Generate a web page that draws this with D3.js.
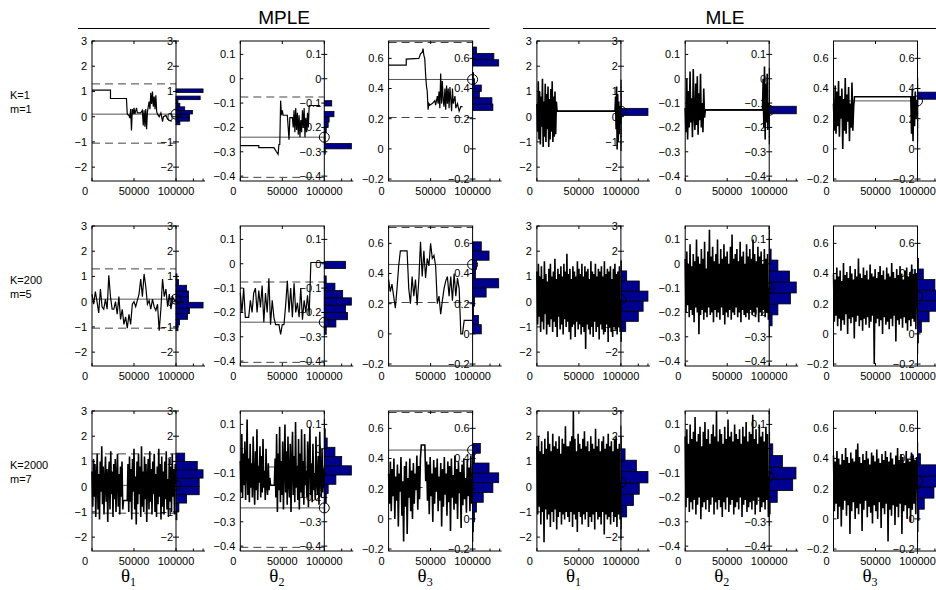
<!DOCTYPE html>
<meta charset="utf-8">
<style>
  body { margin: 0; background: #fff; }
  text { font-family: "Liberation Sans", Arial, Helvetica, sans-serif; fill: #000; }
  .tick-label { font-size: 11px; }
  .row-label { font-size: 11px; }
  .head { font-size: 19px; }
  .theta { font-family: "Liberation Serif", "Times New Roman", serif; font-size: 19px; }
</style>
<svg width="936" height="590"></svg>
<script src="https://d3js.org/d3.v7.min.js"></script>
<script>
// axis settings per parameter column (theta1, theta2, theta3)
var yDomains = [[-2.55, 3], [-0.42, 0.155], [-0.213, 0.715]];
var yTicks = [[-2, -1, 0, 1, 2, 3], [-0.4, -0.3, -0.2, -0.1, 0, 0.1], [-0.2, 0, 0.2, 0.4, 0.6]];
var xTicks = [0, 50000, 100000];
var histTicks = [18, 28];
var rowNames = [["K=1", "m=1"], ["K=200", "m=5"], ["K=2000", "m=7"]];
var methods = ["MPLE", "MLE"];
var thetaSubs = ["1", "2", "3"];

// dashed bounds, MPLE only
var dashedMple = [[1.3, -1.05], [-0.075, -0.405], [0.705, 0.208]];
// reference value (solid line + circle) per row
var refMple = [[0.1, -0.24, 0.46], [0.1, -0.24, 0.46], [0.05, -0.243, 0.456]];
var refMle = [[0.22, -0.13, 0.318], [0.09, -0.1, 0.25], [0.15, -0.114, 0.25]];

// ---- MPLE K=1 traces, (iteration, value) pairs
var mpleK1T1 = [[0,1.05],[22000,1.05],[22000,0.72],[41000,0.72],[42000,0.1],[44000,0.05],[45000,-0.05],[46000,0.3],[47000,-0.55],[48000,0.3],[49000,0.1],[50000,0.35],[51000,0.1],[53000,0.35],[54000,0.15],[58000,0.15],[60000,0.25],[61000,-0.35],[62000,0.25],[63000,-0.4],[64000,0.3],[65000,-0.5],[66000,0.2],[68000,0.6],[69000,0.3],[70000,0.95],[71000,0.5],[72000,1.0],[73000,0.4],[74000,0.8],[75000,0.3],[76000,0.85],[77000,0.2],[78000,0.1],[80000,0.0],[82000,0.15],[84000,-0.2],[85000,0.0],[88000,0.05],[90000,-0.1],[92000,-0.15],[95000,-0.18]];
var mpleK1T2 = [[0,-0.275],[22000,-0.275],[22000,-0.283],[40000,-0.283],[43000,-0.3],[45000,-0.31],[46000,-0.27],[47000,-0.27],[48000,-0.09],[49000,-0.15],[50000,-0.13],[51000,-0.15],[56000,-0.15],[57000,-0.2],[58000,-0.25],[59000,-0.16],[62000,-0.16],[63000,-0.2],[64000,-0.13],[65000,-0.22],[66000,-0.12],[67000,-0.21],[68000,-0.14],[69000,-0.23],[70000,-0.15],[71000,-0.24],[72000,-0.17],[73000,-0.22],[74000,-0.13],[75000,-0.2],[76000,-0.12],[77000,-0.24],[78000,-0.16],[79000,-0.22],[80000,-0.14],[81000,-0.2],[82000,-0.11],[95000,-0.11]];
var mpleK1T3 = [[0,0.555],[21000,0.555],[21000,0.595],[36000,0.6],[38000,0.63],[40000,0.64],[41000,0.665],[42000,0.62],[43000,0.6],[44000,0.5],[45000,0.42],[46000,0.38],[47000,0.26],[48000,0.3],[49000,0.29],[52000,0.3],[55000,0.32],[56000,0.29],[58000,0.35],[59000,0.3],[60000,0.38],[61000,0.27],[62000,0.5],[63000,0.3],[64000,0.45],[65000,0.32],[66000,0.28],[67000,0.4],[68000,0.26],[69000,0.42],[70000,0.3],[71000,0.4],[72000,0.27],[73000,0.41],[74000,0.33],[75000,0.25],[76000,0.4],[77000,0.3],[79000,0.35],[80000,0.27],[82000,0.3],[84000,0.25],[86000,0.28],[88000,0.28]];

// ---- MPLE K=200 traces, values every 2000 iterations
var mpleK200T1 = [0.3,-0.1,0.4,0.0,-0.45,0.5,-0.2,-0.3,0.1,-0.3,1.05,0.2,-0.3,-0.3,0.0,-0.5,0.2,-0.7,-0.3,-0.9,-0.6,-1.05,-0.5,-0.9,-0.1,0.0,-0.2,0.05,0.3,0.9,0.2,1.1,0.6,-0.1,0.05,-0.3,0.1,-0.2,-0.35,-0.1,-1.15,-0.3,0.9,0.2,0.5,-0.2,0.3,-0.3,0.2,0.05,0.05];
var mpleK200T2 = [-0.12,-0.2,-0.1,-0.22,-0.22,-0.22,-0.15,-0.2,-0.12,-0.1,-0.2,-0.11,-0.18,-0.09,-0.24,-0.12,-0.2,-0.06,-0.25,-0.15,-0.22,-0.25,-0.25,-0.25,-0.29,-0.25,-0.25,-0.17,-0.07,-0.2,-0.1,-0.22,-0.08,-0.2,-0.16,-0.22,-0.1,-0.23,-0.15,-0.2,-0.13,-0.21,0.005,0.005,0.005,0.005,0.005,0.005,0.005,0.005,0.005];
var mpleK200T3 = [0.36,0.28,0.33,0.25,0.17,0.3,0.45,0.55,0.55,0.55,0.55,0.55,0.3,0.2,0.38,0.25,0.36,0.19,0.36,0.61,0.38,0.55,0.37,0.5,0.45,0.6,0.5,0.52,0.45,0.2,0.25,0.13,0.22,0.3,0.35,0.38,0.25,0.38,0.22,0.4,0.25,0.37,0.3,0.0,0.0,0.09,0.09,0.09,0.09,0.09,0.09];

// ---- MPLE K=2000 traces, evenly spaced over 0..100000
var mpleK2000T1 = [0.6,-0.8,1.1,-0.4,0.9,-1.2,0.3,1.3,-0.9,0.5,-1.3,1.0,-0.2,1.6,-0.7,0.8,-1.1,0.2,1.2,-0.6,0.7,-1.4,0.4,1.0,-0.9,1.4,-0.3,0.6,-1.2,0.9,-0.5,1.1,-1.0,0.3,1.3,-0.8,0.5,-1.1,0.8,-0.4,1.0,-0.9,-0.55,-0.55,-0.55,-0.55,-0.55,-0.55,0.9,-1.0,1.2,-0.6,0.7,-1.3,1.1,-0.2,1.5,-0.9,0.4,-1.5,1.0,-0.7,1.3,-0.3,0.8,-1.2,1.6,-0.8,0.6,-1.0,1.2,-0.5,0.9,-1.4,0.3,1.1,-0.9,1.4,-0.6,0.7,-1.1,1.0,-0.3,1.3,-1.0,0.5,-1.2,0.8,-0.7,1.5,-0.4,0.9,-1.3,1.2,-0.8,0.6,-1.1,1.0,-0.5,1.4,-0.9,0.3,-1.2,1.1,-0.6,0.8,-1.0,1.3,-0.4,0.7,-1.1,0.9,0.1];
var mpleK2000T2 = [-0.05,-0.18,0.06,-0.2,-0.02,-0.15,0.03,-0.21,-0.08,0.12,-0.19,-0.04,-0.22,0.02,-0.16,-0.06,-0.2,0.05,-0.13,-0.23,-0.01,-0.17,0.08,-0.21,-0.07,-0.14,0.01,-0.2,-0.03,-0.18,0.04,-0.16,-0.09,-0.21,0.0,-0.15,-0.19,-0.06,-0.17,-0.12,-0.15,-0.15,-0.15,-0.15,-0.15,-0.15,-0.04,-0.2,0.06,-0.26,-0.02,-0.17,0.09,-0.22,-0.05,-0.19,0.03,-0.25,-0.08,0.1,-0.18,-0.01,-0.23,0.05,-0.14,-0.2,0.02,-0.26,-0.06,0.07,-0.19,-0.03,-0.22,0.11,-0.16,-0.07,-0.21,0.04,-0.25,-0.02,-0.18,0.08,-0.2,-0.05,-0.23,0.06,-0.15,-0.09,-0.2,0.03,-0.24,-0.04,0.09,-0.19,-0.06,-0.22,0.02,-0.17,-0.1,-0.21,0.05,-0.14,-0.19,-0.03,-0.23,0.07,-0.12,-0.2,0.0,-0.18,-0.08,-0.16];
var mpleK2000T3 = [0.3,0.1,0.38,0.05,0.33,0.15,0.4,0.0,0.28,0.12,0.36,-0.05,0.3,0.18,0.41,0.02,0.25,-0.15,0.35,0.08,0.38,-0.1,0.27,0.14,0.4,0.05,0.32,0.0,0.37,0.1,0.3,0.19,0.42,0.06,0.35,0.13,0.4,0.49,0.49,0.49,0.49,0.49,0.25,0.38,0.12,0.36,0.03,0.41,0.15,0.3,-0.02,0.39,0.1,0.34,0.18,0.4,0.05,0.28,0.12,0.37,-0.05,0.33,0.08,0.41,0.16,0.3,0.02,0.38,0.11,0.35,-0.08,0.4,0.14,0.29,0.06,0.42,0.1,0.33,0.0,0.38,0.17,0.31,-0.06,0.36,0.09,0.4,0.13,0.27,0.04,0.39,0.15,0.34,0.05,0.42,0.1,0.3];

// ---- MLE K=1: burst at start, stuck value, burst at end
var mleK1T1a = [0.5,-0.6,1.4,-0.9,1.0,-1.1,0.8,-0.4,1.5,-1.2,0.6,-0.8,1.3,-1.0,0.9,-0.5,1.2,-1.2,0.7,-0.9,1.1,-0.6,1.4,-1.0,0.8,-0.8,1.0,-0.7,0.6,0.22];
var mleK1T1b = [0.22,0.8,-0.5,1.2,-1.3,0.9,-1.0,0.6,-0.7,0.4,-0.3,0.2];
var mleK1T2a = [-0.12,-0.22,0.0,-0.25,-0.05,-0.2,0.03,-0.18,-0.08,-0.24,0.04,-0.15,-0.21,-0.02,-0.19,0.01,-0.23,-0.06,-0.17,0.02,-0.2,-0.1,-0.22,-0.04,-0.16,-0.128];
var mleK1T2b = [-0.128,0.0,-0.2,0.05,-0.25,-0.02,-0.18,0.02,-0.21,-0.1,-0.13];
var mleK1T3a = [0.3,0.12,0.42,0.1,0.38,0.15,0.45,0.08,0.35,0.2,0.4,0.0,0.33,0.12,0.47,0.1,0.36,0.18,0.41,0.05,0.3,0.14,0.44,0.12,0.28,0.345];
var mleK1T3b = [0.345,0.1,0.4,0.05,0.35,0.15,0.38,0.2,0.32,0.318];

// ---- MLE K=200 traces
var mleK200T1 = [1.2,-0.9,1.5,-0.6,1.0,-1.2,1.4,-0.8,0.9,-1.1,1.6,-0.5,1.1,-1.3,0.8,-0.9,1.3,-1.0,1.5,-0.7,1.0,-1.2,1.2,-0.8,1.7,-1.0,0.9,-1.4,1.3,-0.6,1.1,-1.1,1.4,-0.9,1.0,-1.3,1.5,-0.7,1.2,-1.0,1.9,-0.8,1.1,-1.2,1.3,-1.5,0.9,-1.0,1.4,-0.9,1.2,-1.4,1.0,-0.8,1.6,-1.1,1.3,-0.9,1.1,-1.3,1.5,-1.0,1.0,-1.2,1.4,-1.88,1.2,-0.9,1.3,-1.1,0.9,-1.3,1.6,-1.0,1.2,-1.4,1.1,-0.8,1.5,-1.2,1.0,-1.0,1.3,-1.5,1.2,-0.9,1.4,-1.1,1.0,-1.3,1.6,-1.2,1.1,-0.9,1.3,-1.6,1.2,-1.0,1.4,-1.2,0.9,-1.4,1.3,-1.0,1.5,-1.1,1.1,-1.3,1.2,-1.0,1.4,-1.2,0.1];
var mleK200T2 = [0.02,-0.2,0.05,-0.17,0.0,-0.22,0.08,-0.19,-0.01,-0.21,0.04,-0.24,0.01,-0.18,0.1,-0.2,0.03,-0.29,0.0,-0.21,0.06,-0.19,0.02,-0.23,0.09,-0.2,-0.02,-0.22,0.05,-0.18,0.14,-0.21,0.03,-0.2,0.07,-0.24,0.01,-0.19,0.04,-0.22,0.1,-0.2,0.0,-0.23,0.06,-0.18,0.02,-0.21,0.08,-0.25,0.03,-0.2,0.05,-0.22,0.0,-0.19,0.07,-0.23,0.12,-0.2,0.02,-0.21,0.04,-0.18,0.06,-0.22,0.01,-0.2,0.09,-0.24,0.03,-0.19,0.05,-0.21,0.0,-0.22,0.08,-0.2,0.03,-0.23,0.06,-0.19,0.02,-0.21,0.1,-0.2,0.04,-0.22,0.01,-0.18,0.07,-0.24,0.03,-0.2,0.05,-0.21,0.0,-0.19,0.06,-0.22,0.02,-0.2,0.04,-0.23,-0.1];
var mleK200T3 = [0.4,0.08,0.36,0.12,0.44,0.05,0.38,0.1,0.42,0.02,0.35,0.09,0.47,0.06,0.39,0.13,0.41,0.0,0.37,0.1,0.45,0.07,0.4,0.11,0.36,-0.03,0.43,0.08,0.38,0.12,0.5,0.05,0.4,0.09,0.37,0.02,0.44,0.1,0.39,0.06,0.42,0.11,0.36,0.04,0.46,0.08,0.4,0.12,0.38,-0.2,0.43,0.07,0.37,0.1,0.41,0.05,0.45,0.09,0.39,0.0,0.42,0.11,0.36,0.06,0.44,0.08,0.4,0.03,0.38,0.1,0.47,0.05,0.41,0.12,0.37,-0.05,0.43,0.09,0.39,0.06,0.45,0.1,0.4,0.04,0.36,0.11,0.42,0.07,0.44,0.02,0.38,0.09,0.41,0.05,0.46,0.1,0.39,0.08,0.43,0.03,0.4,0.25];

// ---- MLE K=2000 traces
var mleK2000T1 = [1.6,-1.1,2.0,-0.8,1.4,-1.5,1.8,-1.0,1.3,-2.2,1.9,-0.9,1.5,-1.3,2.2,-1.1,1.7,-1.6,1.4,-1.0,2.1,-1.4,1.6,-0.9,1.8,-1.7,1.5,-1.2,2.0,-1.0,1.3,-1.5,1.9,-1.1,1.7,-1.3,2.4,-1.0,1.6,-1.2,1.6,-1.4,1.8,-1.0,2.0,-1.6,3.0,-1.1,1.9,-1.3,1.4,-1.8,2.1,-1.0,1.7,-1.2,1.5,-1.5,1.9,-1.1,2.2,-1.3,1.6,-1.0,1.8,-1.6,1.4,-1.2,2.0,-1.4,1.7,-1.1,1.5,-1.7,2.3,-1.0,1.6,-1.3,1.9,-1.2,1.4,-1.5,1.8,-1.0,2.0,-1.9,1.5,-1.1,1.7,-1.3,2.1,-1.2,1.6,-1.5,1.8,-1.0,1.4,-1.4,1.9,-1.2,2.0,-1.6,1.5,-1.1,1.7,-1.3,0.15];
var mleK2000T2 = [0.05,-0.24,0.08,-0.2,0.02,-0.26,0.1,-0.22,0.04,-0.25,0.07,-0.21,0.13,-0.27,0.03,-0.23,0.06,-0.2,0.09,-0.29,0.01,-0.24,0.07,-0.22,0.11,-0.25,0.04,-0.21,0.08,-0.26,0.02,-0.23,0.06,-0.2,0.1,-0.27,0.05,-0.22,0.155,-0.25,0.03,-0.21,0.08,-0.24,0.06,-0.28,0.02,-0.22,0.09,-0.25,0.04,-0.2,0.12,-0.26,0.05,-0.23,0.07,-0.21,0.03,-0.27,0.1,-0.24,0.06,-0.22,0.04,-0.25,0.08,-0.2,0.02,-0.28,0.09,-0.23,0.05,-0.21,0.11,-0.26,0.03,-0.24,0.07,-0.22,0.06,-0.25,0.14,-0.21,0.04,-0.27,0.08,-0.23,0.02,-0.2,0.1,-0.26,0.05,-0.24,0.07,-0.22,0.03,-0.25,0.09,-0.21,0.06,-0.28,-0.11];
var mleK2000T3 = [0.42,0.05,0.38,0.1,0.45,0.0,0.4,0.08,0.36,-0.05,0.43,0.06,0.39,0.12,0.47,0.02,0.41,0.09,0.37,-0.1,0.44,0.05,0.4,0.11,0.38,0.0,0.46,0.07,0.5,0.03,0.41,0.1,0.37,-0.08,0.43,0.06,0.39,0.12,0.45,0.01,0.4,0.08,0.36,0.04,0.44,-0.03,0.42,0.09,0.38,0.05,0.46,0.0,0.4,0.11,0.37,-0.06,0.43,0.07,0.39,0.03,0.45,0.1,0.41,-0.15,0.38,0.06,0.44,0.02,0.4,0.09,0.36,-0.04,0.42,0.08,0.47,0.01,0.39,0.1,0.43,-0.1,0.41,0.05,0.37,0.09,0.45,0.0,0.4,0.07,0.38,-0.02,0.44,0.06,0.42,0.1,0.39,0.03,0.41,0.25];

// ---- histograms: first bin edge, bin width, bar counts (k samples)
var histMpleK1 = [
  { lo: -0.32, w: 0.142, n: [4, 14, 14, 17, 9, 4, 2, 25, 0, 28] },
  { lo: -0.31, w: 0.022, n: [1, 28, 1, 1, 2, 4, 5, 10, 0, 7.7] },
  { lo: 0.255, w: 0.042, n: [21, 20, 7, 9, 2, 1, 0, 27, 22, 4] }
];
var histMpleK200 = [
  { lo: -1.15, w: 0.225, n: [2, 3.7, 12, 14, 28, 13, 13, 11, 2.7, 1] },
  { lo: -0.29, w: 0.03, n: [2, 12, 24, 22, 28, 19, 11, 2, 0, 22] },
  { lo: 0.0, w: 0.061, n: [9, 6, 1, 2, 14, 27, 3, 4, 17, 9] }
];
var histMpleK2000 = [
  { lo: -1.64, w: 0.33, n: [0, 1, 3, 11, 24, 24, 28, 22, 9, 0] },
  { lo: -0.26, w: 0.038, n: [0.5, 2, 4, 12, 28, 18, 11, 3, 1, 0.3] },
  { lo: -0.15, w: 0.065, n: [0.3, 1, 2, 4, 11, 21, 27, 17, 2, 8] }
];
var histMleK1 = [
  { lo: -1.35, w: 0.28, n: [0.3, 0.3, 0.4, 0.4, 0.5, 28, 0.5, 0.4, 0.3, 0.3] },
  { lo: -0.268, w: 0.031, n: [0.3, 0.3, 0.4, 0.4, 28, 0.4, 0.4, 0.3, 0.3, 0.2] },
  { lo: 0.0, w: 0.047, n: [0.2, 0.3, 0.3, 0.4, 0.4, 0.4, 0.5, 28, 0.4, 0.3] }
];
var histMleK200 = [
  { lo: -1.98, w: 0.4, n: [0, 0.5, 5, 18, 23, 28, 19, 6, 0.5, 0] },
  { lo: -0.3, w: 0.045, n: [0.3, 3, 9, 22, 28, 21, 9, 2, 0.3, 0.1] },
  { lo: -0.2, w: 0.07, n: [0.1, 0.3, 1, 4, 12, 24, 28, 18, 6, 1] }
];
var histMleK2000 = [
  { lo: -2.1, w: 0.45, n: [0.2, 0.5, 6, 13, 19, 28, 16, 4.3, 0.5, 0.1] },
  { lo: -0.316, w: 0.048, n: [0.1, 1, 8.3, 24.3, 27.7, 13.7, 3.7, 0.5, 0.1, 0.05] },
  { lo: -0.23, w: 0.0735, n: [0.05, 0.2, 0.6, 1.5, 7, 17, 28, 26, 3, 0.3] }
];

function spread(vals, x0, x1) {
  var s = (x1 - x0) / (vals.length - 1);
  return vals.map(function (v, i) { return [x0 + i * s, v]; });
}

var mpleTraces = [
  [mpleK1T1, mpleK1T2, mpleK1T3],
  [mpleK200T1, mpleK200T2, mpleK200T3].map(function (v) { return spread(v, 0, 100000); }),
  [mpleK2000T1, mpleK2000T2, mpleK2000T3].map(function (v) { return spread(v, 0, 100000); })
];
var mleTraces = [
  [spread(mleK1T1a, 0, 24000).concat(spread(mleK1T1b, 93000, 100000)),
   spread(mleK1T2a, 0, 24000).concat(spread(mleK1T2b, 92000, 100000)),
   spread(mleK1T3a, 0, 25000).concat(spread(mleK1T3b, 92000, 100000))],
  [mleK200T1, mleK200T2, mleK200T3].map(function (v) { return spread(v, 0, 100000); }),
  [mleK2000T1, mleK2000T2, mleK2000T3].map(function (v) { return spread(v, 0, 100000); })
];
var mpleHists = [histMpleK1, histMpleK200, histMpleK2000];
var mleHists = [histMleK1, histMleK200, histMleK2000];

var svg = d3.select("svg");
var boxW = 84, boxH = 140, histW = 29;
var colScale = d3.scaleLinear().domain([0, 5]).range([92, 833.5]);
var rowScale = d3.scaleLinear().domain([0, 2]).range([41, 411]);
var fmt = d3.format("");

// headers
methods.forEach(function (m, i) {
  var x0 = colScale(i * 3) - 14, x1 = i === 0 ? colScale(2) + boxW + 17 : 936;
  svg.append("line").attr("x1", x0).attr("x2", x1).attr("y1", 28.5).attr("y2", 28.5)
    .attr("stroke", "#000").attr("stroke-width", 1);
  svg.append("text").attr("class", "head").attr("x", i === 0 ? 284 : 725).attr("y", 24)
    .attr("text-anchor", "middle").text(m);
});

// row labels
rowNames.forEach(function (r, i) {
  svg.append("text").attr("class", "row-label").attr("x", 10).attr("y", rowScale(i) + 58).text(r[0]);
  svg.append("text").attr("class", "row-label").attr("x", 10).attr("y", rowScale(i) + 72).text(r[1]);
});

// theta labels
d3.range(6).forEach(function (c) {
  var t = svg.append("text").attr("class", "theta").attr("x", colScale(c) + 29).attr("y", 582).text("θ");
  t.append("tspan").attr("dy", 4).style("font-size", "12px").text(thetaSubs[c % 3]);
});

for (var row = 0; row < 3; row++) {
  for (var col = 0; col < 6; col++) {
    var p = col % 3, isMple = col < 3;
    drawPanel(row, col, p,
      isMple ? mpleTraces[row][p] : mleTraces[row][p],
      isMple ? mpleHists[row][p] : mleHists[row][p],
      isMple ? refMple[row][p] : refMle[row][p],
      isMple ? dashedMple[p] : [],
      (isMple && row < 2) ? 1.2 : 1.6);
  }
}

function drawPanel(row, col, p, trace, hist, ref, dashed, lineW) {
  var g = svg.append("g").attr("transform", "translate(" + colScale(col) + "," + rowScale(row) + ")");
  var x = d3.scaleLinear().domain([0, 100000]).range([0, boxW]);
  var y = d3.scaleLinear().domain(yDomains[p]).range([boxH, 0]);
  var hx = d3.scaleLinear().domain([0, 30]).range([boxW, boxW + histW]);

  // reference lines
  g.selectAll(".dash").data(dashed).join("line")
    .attr("x1", 0).attr("x2", boxW).attr("y1", y).attr("y2", y)
    .attr("stroke", "#444").attr("stroke-dasharray", "8,5");
  g.append("line").attr("x1", 0).attr("x2", boxW).attr("y1", y(ref)).attr("y2", y(ref))
    .attr("stroke", "#555");

  // trace
  g.append("path").datum(trace)
    .attr("d", d3.line().x(function (d) { return x(d[0]); }).y(function (d) { return y(d[1]); }))
    .attr("fill", "none").attr("stroke", "#000").attr("stroke-width", lineW)
    .attr("stroke-linejoin", "miter");

  // histogram bars
  g.selectAll(".bar").data(hist.n).join("rect")
    .attr("x", boxW)
    .attr("y", function (d, i) { return y(hist.lo + (i + 1) * hist.w); })
    .attr("height", function (d, i) { return y(hist.lo + i * hist.w) - y(hist.lo + (i + 1) * hist.w); })
    .attr("width", function (d) { return hx(d) - boxW; })
    .attr("fill", "#00008f").attr("stroke", "#000").attr("stroke-width", 0.8);

  // circle at the end
  g.append("circle").attr("cx", x(100000)).attr("cy", y(ref)).attr("r", 5)
    .attr("fill", "none").attr("stroke", "#000");

  // box
  g.append("rect").attr("width", boxW).attr("height", boxH)
    .attr("fill", "none").attr("stroke", "#000").attr("stroke-width", 1);
  // histogram axis bottom line + ticks
  g.append("line").attr("x1", boxW).attr("x2", boxW + histW).attr("y1", boxH).attr("y2", boxH).attr("stroke", "#000");
  g.selectAll(".ht").data(histTicks).join("line")
    .attr("x1", hx).attr("x2", hx).attr("y1", boxH).attr("y2", boxH - 2.5).attr("stroke", "#000");

  // y ticks: left inner, right inner, right outer (histogram axis)
  var yt = yTicks[p];
  [[0, 3], [boxW, -3], [boxW, 3]].forEach(function (s) {
    g.selectAll(null).data(yt).join("line")
      .attr("x1", s[0]).attr("x2", s[0] + s[1]).attr("y1", y).attr("y2", y).attr("stroke", "#000");
  });
  // x ticks top and bottom
  [[0, 3], [boxH, -3]].forEach(function (s) {
    g.selectAll(null).data(xTicks).join("line")
      .attr("x1", x).attr("x2", x).attr("y1", s[0]).attr("y2", s[0] + s[1]).attr("stroke", "#000");
  });

  // labels
  g.selectAll(".yl").data(yt).join("text").attr("class", "tick-label")
    .attr("x", -5).attr("y", y).attr("dy", "0.35em").attr("text-anchor", "end").text(fmt);
  g.selectAll(".yr").data(yt).join("text").attr("class", "tick-label")
    .attr("x", boxW - 3).attr("y", y).attr("dy", "0.35em").attr("text-anchor", "end").text(fmt);
  g.selectAll(".xl").data(xTicks).join("text").attr("class", "tick-label")
    .attr("x", function (d, i) { return x(d) - (i === 0 ? 7 : 0); }).attr("y", boxH + 14)
    .attr("text-anchor", "middle").text(fmt);
}
</script>
